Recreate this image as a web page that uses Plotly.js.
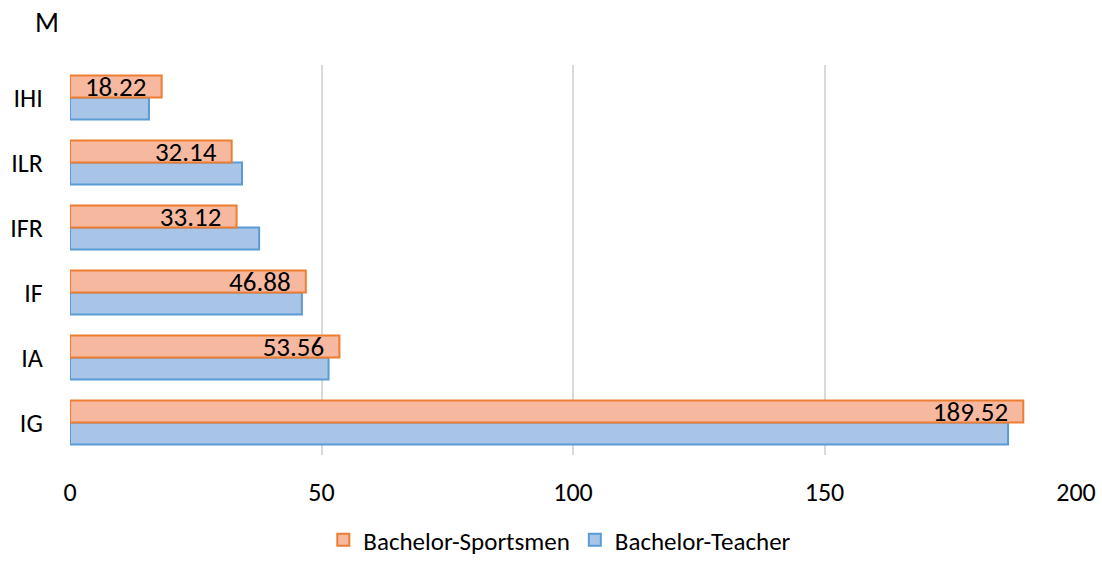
<!DOCTYPE html>
<html>
<head>
<meta charset="utf-8">
<script src="https://cdn.plot.ly/plotly-3.0.1.min.js"></script>
<style>html,body{margin:0;padding:0;background:#fff;}#chart{width:1102px;height:563px;}</style>
</head>
<body>
<div id="chart"></div>
<script>
const categories = ["IG", "IA", "IF", "IFR", "ILR", "IHI"];
const sportsmen = [189.52, 53.56, 46.88, 33.12, 32.14, 18.22];
const teacher = [186.5, 51.4, 46.1, 37.6, 34.2, 15.7];
const sportsmenLabels = ["189.52", "53.56", "46.88", "33.12", "32.14", "18.22"];
const xTicks = [0, 50, 100, 150, 200];

const FONT = "Carlito, Lato, 'Open Sans', sans-serif";

const traces = [
  {
    type: "bar", orientation: "h", name: "Bachelor-Teacher",
    y: categories, x: teacher,
    marker: { color: "#a8c4e7", line: { color: "#5b9bd5", width: 2 } },
    legendrank: 2, hoverinfo: "x"
  },
  {
    type: "bar", orientation: "h", name: "Bachelor-Sportsmen",
    y: categories, x: sportsmen,
    text: sportsmenLabels.map(s => s + "\u00a0\u00a0"), textposition: "inside", insidetextanchor: "end",
    textangle: 0, constraintext: "none",
    textfont: { family: FONT, size: 27, color: "#000" },
    marker: { color: "#f6b9a0", line: { color: "#ed7d31", width: 2 } },
    legendrank: 1, hoverinfo: "x"
  }
];

const layout = {
  width: 1102, height: 563,
  margin: { l: 70, r: 26, t: 65, b: 108, autoexpand: false },
  paper_bgcolor: "#fff", plot_bgcolor: "#fff",
  font: { family: FONT, size: 26, color: "#000" },
  barmode: "group", bargap: 0.32, bargroupgap: 0,
  showlegend: true,
  legend: {
    orientation: "h", x: 0.508, xanchor: "center", xref: "container",
    y: 0.0, yanchor: "bottom", yref: "container",
    font: { family: FONT, size: 25, color: "#000" },
    itemwidth: 30, tracegroupgap: 0
  },
  xaxis: {
    range: [0, 200], tickvals: xTicks, ticktext: xTicks.map(String),
    showgrid: true, gridcolor: "#d9d9d9", gridwidth: 2,
    zeroline: false, showline: false, ticks: "outside", ticklen: 14, tickcolor: "rgba(0,0,0,0)",
    tickfont: { family: FONT, size: 26, color: "#000" }
  },
  yaxis: {
    type: "category", range: [-0.5, 5.5],
    showgrid: false, zeroline: false, showline: false, ticks: "outside", ticklen: 21, tickcolor: "rgba(0,0,0,0)",
    tickfont: { family: FONT, size: 26, color: "#000" }
  },
  annotations: [
    { text: "M", xref: "paper", yref: "paper", x: -0.023, y: 1.11, xanchor: "center", yanchor: "middle",
      showarrow: false, font: { family: FONT, size: 28, color: "#000" } }
  ]
};

Plotly.newPlot("chart", traces, layout, { displayModeBar: false, responsive: false });
</script>
</body>
</html>
